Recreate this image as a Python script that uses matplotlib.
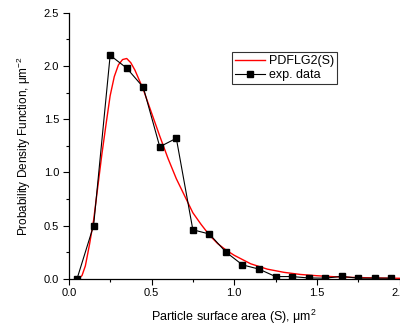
import matplotlib
matplotlib.use("Agg")
import matplotlib.pyplot as plt
from matplotlib.ticker import MultipleLocator

plt.rcParams['font.family'] = ['Liberation Sans', 'DejaVu Sans']
plt.rcParams['mathtext.fontset'] = 'custom'
plt.rcParams['mathtext.rm'] = 'Liberation Sans'
plt.rcParams['mathtext.it'] = 'Liberation Sans:italic'

# experimental histogram (bin centres)
exp_s = [0.05, 0.15, 0.25, 0.35, 0.45, 0.55, 0.65, 0.75, 0.85, 0.95,
         1.05, 1.15, 1.25, 1.35, 1.45, 1.55, 1.65, 1.75, 1.85, 1.95]
exp_pdf = [0.0, 0.50, 2.10, 1.98, 1.80, 1.24, 1.32, 0.46, 0.42, 0.25,
           0.13, 0.09, 0.02, 0.02, 0.007, 0.005, 0.022, 0.005, 0.005, 0.005]

# fitted curve
fit_s = [0.06, 0.08, 0.10, 0.125, 0.15, 0.175, 0.20, 0.225, 0.25, 0.275,
         0.30, 0.325, 0.35, 0.375, 0.40, 0.45, 0.50, 0.55, 0.60, 0.65,
         0.70, 0.75, 0.80, 0.85, 0.90, 0.95, 1.00, 1.10, 1.20, 1.30,
         1.40, 1.50, 1.60, 1.70, 1.80, 1.90, 2.00]
fit_pdf = [0.0, 0.03, 0.12, 0.32, 0.55, 0.86, 1.17, 1.45, 1.72, 1.90,
           2.01, 2.06, 2.07, 2.03, 1.96, 1.78, 1.56, 1.34, 1.13, 0.94,
           0.78, 0.62, 0.51, 0.41, 0.33, 0.27, 0.22, 0.14, 0.09, 0.06,
           0.04, 0.028, 0.019, 0.013, 0.009, 0.006, 0.004]

fig = plt.figure(figsize=(4.0, 3.27), dpi=100)
ax = fig.add_axes([0.172, 0.1477, 0.827, 0.8133])

ax.plot(fit_s, fit_pdf, color='red', lw=1.0, label='PDFLG2(S)')
ax.plot(exp_s, exp_pdf, color='black', lw=0.8, marker='s', markersize=4.6,
        label='exp. data')

ax.set_xlim(0, 2.0)
ax.set_ylim(0, 2.5)
ax.xaxis.set_major_locator(MultipleLocator(0.5))
ax.xaxis.set_minor_locator(MultipleLocator(0.25))
ax.yaxis.set_major_locator(MultipleLocator(0.5))
ax.yaxis.set_minor_locator(MultipleLocator(0.25))
ax.xaxis.set_major_formatter(plt.FormatStrFormatter('%.1f'))
ax.yaxis.set_major_formatter(plt.FormatStrFormatter('%.1f'))

for side in ['top', 'right']:
    ax.spines[side].set_visible(False)
for side in ['left', 'bottom']:
    ax.spines[side].set_linewidth(0.9)

ax.tick_params(which='major', direction='out', length=4, width=0.8, labelsize=8, pad=3)
ax.tick_params(which='minor', direction='out', length=2.5, width=0.8)

ax.set_xlabel('Particle surface area (S), μm$^{\\mathregular{2}}$', fontsize=9, labelpad=7)
ax.set_ylabel('Probability Density Function, μm$^{\\mathregular{-2}}$', fontsize=8.5, labelpad=8)

leg = ax.legend(loc='upper left', bbox_to_anchor=(0.492, 0.852), borderaxespad=0,
                fontsize=9, frameon=True, fancybox=False, handlelength=2.4,
                handletextpad=0.35, borderpad=0.25, labelspacing=0.15)
leg.get_frame().set_edgecolor('black')
leg.get_frame().set_linewidth(0.8)

fig.savefig('out.png', dpi=100)
